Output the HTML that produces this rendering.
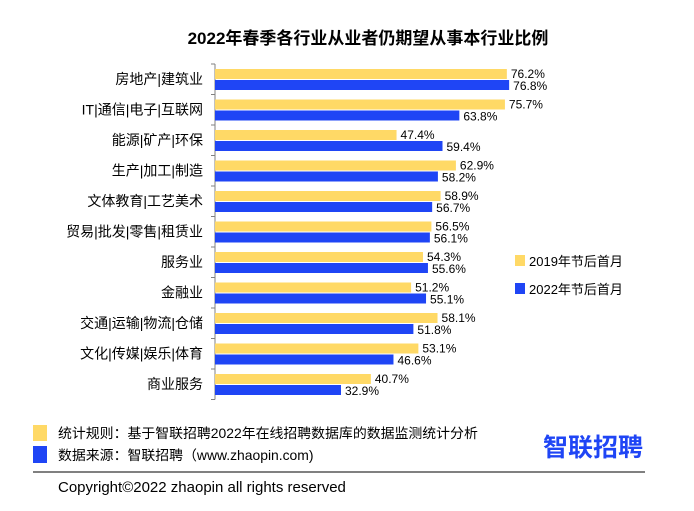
<!DOCTYPE html>
<html><head><meta charset="utf-8"><style>
body{margin:0;background:#fff;width:694px;height:506px;overflow:hidden;font-family:"Liberation Sans","Noto Sans CJK SC",sans-serif;}
</style></head><body>
<svg width="694" height="506" xmlns="http://www.w3.org/2000/svg" style="font-family:'Liberation Sans','Noto Sans CJK SC',sans-serif">
<text x="368" y="44" text-anchor="middle" font-size="17" font-weight="bold" fill="#000">2022年春季各行业从业者仍期望从事本行业比例</text>
<g id="plot"></g>
<g>
<rect x="515" y="255" width="10" height="11" fill="#FFD966"/>
<text x="529" y="266" font-size="13">2019年节后首月</text>
<rect x="515" y="283" width="10" height="11" fill="#1F45F5"/>
<text x="529" y="294" font-size="13">2022年节后首月</text>
</g>
<rect x="33" y="425" width="14" height="16" fill="#FFD966"/>
<text x="58" y="438" font-size="13.9">统计规则：基于智联招聘2022年在线招聘数据库的数据监测统计分析</text>
<rect x="33" y="446" width="14" height="17" fill="#1F45F5"/>
<text x="58" y="460" font-size="13.9">数据来源：智联招聘（www.zhaopin.com)</text>
<text x="543" y="456" font-size="25" font-weight="bold" fill="#1F45F5">智联招聘</text>
<line x1="33" y1="472" x2="645" y2="472" stroke="#000" stroke-width="1"/>
<text x="58" y="492" font-size="15">Copyright©2022 zhaopin all rights reserved</text>
</svg>
<script>
const categories=["房地产|建筑业","IT|通信|电子|互联网","能源|矿产|环保","生产|加工|制造","文体教育|工艺美术","贸易|批发|零售|租赁业","服务业","金融业","交通|运输|物流|仓储","文化|传媒|娱乐|体育","商业服务"];
const values2019=[76.2,75.7,47.4,62.9,58.9,56.5,54.3,51.2,58.1,53.1,40.7];
const values2022=[76.8,63.8,59.4,58.2,56.7,56.1,55.6,55.1,51.8,46.6,32.9];
const NS="http://www.w3.org/2000/svg";
const g=document.getElementById('plot');
const x0=215,k=3.83,top0=64,rowH=30.5;
const xs=v=>x0+v*k;
function mk(t,a){const e=document.createElementNS(NS,t);for(const n in a)e.setAttribute(n,a[n]);g.appendChild(e);return e;}
const n=categories.length;
let ax=mk('line',{x1:x0,y1:top0,x2:x0,y2:top0+n*rowH,stroke:'#808080','stroke-width':1});


for(let i=0;i<=n;i++){let t=mk('line',{x1:x0-4,y1:top0+i*rowH,x2:x0,y2:top0+i*rowH,stroke:'#808080'});

}
categories.forEach((c,i)=>{
const y=top0+i*rowH;
let l=mk('text',{x:203,y:y+20,'text-anchor':'end','font-size':14});l.textContent=c;


let b1=mk('rect',{x:x0,y:y+5,width:xs(values2019[i])-x0,height:10,fill:'#FFD966'});


let b2=mk('rect',{x:x0,y:y+16,width:xs(values2022[i])-x0,height:10,fill:'#1F45F5'});


let t1=mk('text',{x:xs(values2019[i])+4,y:y+14,'font-size':12});t1.textContent=values2019[i].toFixed(1)+'%';


let t2=mk('text',{x:xs(values2022[i])+4,y:y+26,'font-size':12});t2.textContent=values2022[i].toFixed(1)+'%';


});
</script>
</body></html>
